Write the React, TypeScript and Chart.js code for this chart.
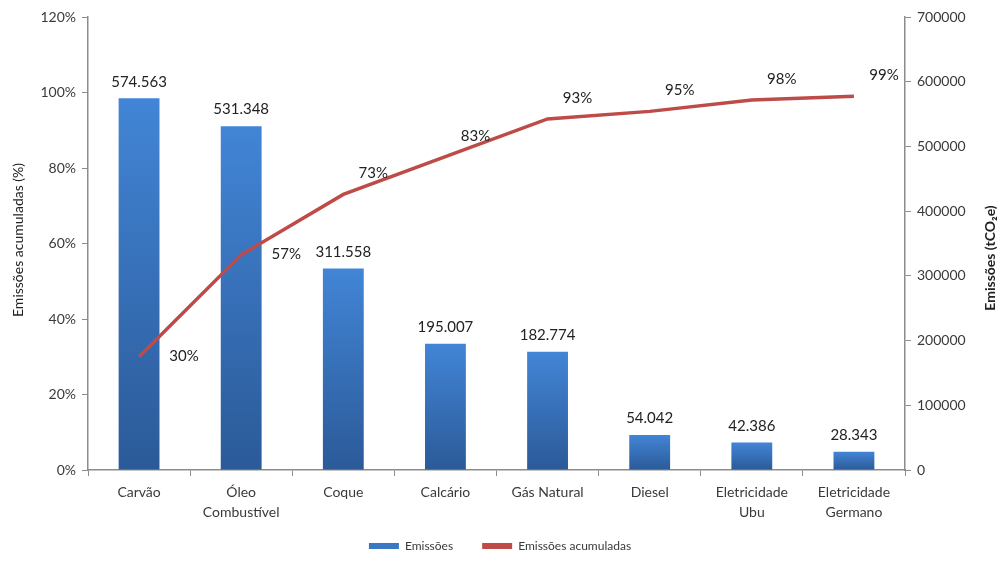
import React, { useEffect, useRef } from "react";
import { Chart, registerables } from "chart.js";

Chart.register(...registerables);

const categories: (string | string[])[] = [
  "Carvão",
  ["Óleo", "Combustível"],
  "Coque",
  "Calcário",
  "Gás Natural",
  "Diesel",
  ["Eletricidade", "Ubu"],
  ["Eletricidade", "Germano"],
];
const emissions = [574563, 531348, 311558, 195007, 182774, 54042, 42386, 28343];
const cumulativePct = [30, 57, 73, 83, 93, 95, 98, 99];
const cumulativeLabelPlacement = ["right", "right", "aboveRight", "aboveRight", "aboveRight", "aboveRight", "aboveRight", "aboveRight"];
const leftTicks = [0, 20, 40, 60, 80, 100, 120];
const rightTicks = [0, 100000, 200000, 300000, 400000, 500000, 600000, 700000];

const FONT = "Lato, 'Open Sans', sans-serif";
const TEXT = "#3a3a3a";
const AXIS = "#8c8c8c";
const BAR_COLOR = "#3b78c4";
const LINE_COLOR = "#be4b48";

function fmtPt(v: number): string {
  return String(v).replace(/\B(?=(\d{3})+(?!\d))/g, ".");
}

const labelsPlugin = {
  id: "customLabels",
  afterDatasetsDraw(chart: any) {
    const ctx = chart.ctx;
    ctx.save();
    const barMeta = chart.getDatasetMeta(0);
    ctx.font = `15px ${FONT}`;
    ctx.fillStyle = "#222";
    ctx.textAlign = "center";
    ctx.textBaseline = "bottom";
    barMeta.data.forEach((el: any, i: number) => {
      ctx.fillText(fmtPt(emissions[i]), el.x, el.y - 9);
    });
    const lineMeta = chart.getDatasetMeta(1);
    ctx.textBaseline = "middle";
    lineMeta.data.forEach((el: any, i: number) => {
      const p = cumulativeLabelPlacement[i];
      const dx = p === "right" ? 45 : 30;
      const dy = p === "right" ? -1 : -21;
      ctx.fillText(cumulativePct[i] + "%", el.x + dx, el.y + dy);
    });
    ctx.font = `14px ${FONT}`;
    ctx.fillStyle = "#222";
    ctx.textAlign = "center";
    ctx.translate(18, 240);
    ctx.rotate(-Math.PI / 2);
    ctx.fillText("Emissões acumuladas (%)", 0, 0);
    ctx.setTransform(1, 0, 0, 1, 0, 0);
    ctx.font = `bold 14px ${FONT}`;
    ctx.translate(990, 258);
    ctx.rotate(-Math.PI / 2);
    ctx.fillText("Emissões (tCO₂e)", 0, 0);
    ctx.restore();
  },
};

export default function App() {
  const ref = useRef<HTMLCanvasElement | null>(null);
  useEffect(() => {
    document.body.style.margin = "0";
    const canvas = ref.current!;
    const chart = new Chart(canvas, {
      type: "bar",
      data: {
        labels: categories,
        datasets: [
          {
            type: "bar",
            label: "Emissões",
            data: emissions,
            yAxisID: "y2",
            order: 2,
            barPercentage: 0.8,
            categoryPercentage: 0.5,
            backgroundColor: (c: any) => {
              const ch = c.chart;
              const sc = ch.scales && ch.scales.y2;
              if (!sc || c.type !== "data") return BAR_COLOR;
              const top = sc.getPixelForValue(c.raw);
              const bottom = sc.getPixelForValue(0);
              if (!isFinite(top) || !isFinite(bottom)) return BAR_COLOR;
              const g = ch.ctx.createLinearGradient(0, top, 0, bottom);
              g.addColorStop(0, "#4285d6");
              g.addColorStop(1, "#2b5a98");
              return g;
            },
            borderWidth: 0,
          } as any,
          {
            type: "line",
            label: "Emissões acumuladas",
            data: cumulativePct,
            yAxisID: "y",
            order: 1,
            borderColor: LINE_COLOR,
            backgroundColor: LINE_COLOR,
            borderWidth: 3.5,
            pointRadius: 0,
            tension: 0,
          } as any,
        ],
      },
      options: {
        animation: false,
        responsive: false,
        maintainAspectRatio: false,
        layout: { padding: { top: 17, bottom: 0, left: 0, right: 0 } },
        plugins: {
          tooltip: { enabled: false },
          legend: {
            position: "bottom",
            labels: {
              font: { family: FONT, size: 12 },
              color: TEXT,
              boxWidth: 30,
              boxHeight: 6,
              padding: 20,
              generateLabels: (ch: any) => {
                const items = Chart.defaults.plugins.legend.labels.generateLabels(ch);
                items.sort((a: any, b: any) => a.datasetIndex - b.datasetIndex);
                items.forEach((it: any) => {
                  const col = it.datasetIndex === 0 ? BAR_COLOR : LINE_COLOR;
                  it.fillStyle = col;
                  it.strokeStyle = col;
                  it.lineWidth = 0;
                  if (it.datasetIndex === 0) it.text = it.text + "\u2003";
                });
                return items;
              },
            },
          },
        },
        scales: {
          x: {
            offset: true,
            grid: {
              display: true,
              offset: true,
              drawOnChartArea: false,
              tickLength: 6,
              color: AXIS,
            },
            border: { display: true, color: AXIS, width: 1.5 },
            ticks: {
              font: { family: FONT, size: 14, lineHeight: 1.45 },
              color: TEXT,
              maxRotation: 0,
              autoSkip: false,
              padding: 6,
            },
            afterFit: (s: any) => {
              s.height = 50;
            },
          },
          y: {
            position: "left",
            min: 0,
            max: 120,
            afterBuildTicks: (s: any) => {
              s.ticks = leftTicks.map((v) => ({ value: v }));
            },
            ticks: {
              font: { family: FONT, size: 14 },
              color: TEXT,
              padding: 6,
              callback: (v: any) => v + "%",
            },
            grid: { display: true, drawOnChartArea: false, tickLength: 6, color: AXIS },
            border: { display: true, color: AXIS, width: 1.5 },
            afterFit: (s: any) => {
              s.width = 88;
            },
          },
          y2: {
            position: "right",
            min: 0,
            max: 700000,
            afterBuildTicks: (s: any) => {
              s.ticks = rightTicks.map((v) => ({ value: v }));
            },
            ticks: {
              font: { family: FONT, size: 14 },
              color: TEXT,
              padding: 6,
              callback: (v: any) => String(v),
            },
            grid: { display: true, drawOnChartArea: false, tickLength: 6, color: AXIS },
            border: { display: true, color: AXIS, width: 1.5 },
            afterFit: (s: any) => {
              s.width = 95;
            },
          },
        },
      } as any,
      plugins: [labelsPlugin],
    });
    return () => chart.destroy();
  }, []);
  return (
    <div style={{ width: 1000, height: 562, background: "#fff" }}>
      <canvas ref={ref} width={1000} height={562} style={{ display: "block" }} />
    </div>
  );
}
